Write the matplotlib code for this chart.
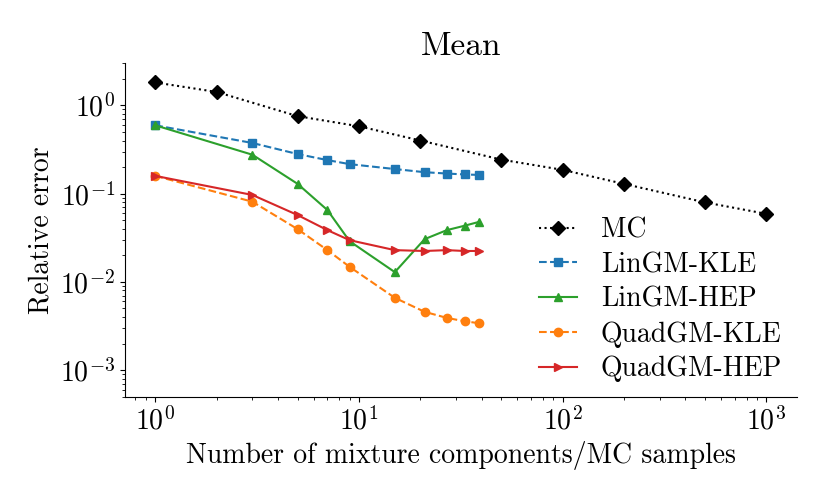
import matplotlib
matplotlib.use("Agg")
import matplotlib.pyplot as plt

plt.rcParams['font.family'] = ['cmr10', 'DejaVu Serif']
plt.rcParams['mathtext.fontset'] = 'cm'
plt.rcParams['axes.formatter.use_mathtext'] = True
plt.rcParams['axes.unicode_minus'] = False
plt.rcParams['font.size'] = 20

mc_n = [1, 2, 5, 10, 20, 50, 100, 200, 500, 1000]
mc_err = [1.82, 1.42, 0.755, 0.58, 0.40, 0.243, 0.186, 0.129, 0.0796, 0.0590]

gm_n = [1, 3, 5, 7, 9, 15, 21, 27, 33, 39]
lingm_kle = [0.595, 0.375, 0.281, 0.240, 0.216, 0.190, 0.175, 0.169, 0.165, 0.163]
lingm_hep = [0.595, 0.276, 0.129, 0.0652, 0.0289, 0.0129, 0.0305, 0.0386, 0.0433, 0.0480]
quadgm_kle = [0.159, 0.081, 0.0396, 0.0229, 0.0148, 0.0066, 0.00458, 0.00391, 0.00358, 0.0034]
quadgm_hep = [0.159, 0.0966, 0.0572, 0.0386, 0.0297, 0.0229, 0.0224, 0.0229, 0.0224, 0.0224]

fig = plt.figure(figsize=(8.3, 4.98), dpi=100)
ax = fig.add_axes([0.1502, 0.2034, 0.81, 0.6695])

ax.plot(mc_n, mc_err, 'k:', marker='D', markersize=7, label='MC')
ax.plot(gm_n, lingm_kle, '--', color='tab:blue', marker='s', markersize=6, label='LinGM-KLE')
ax.plot(gm_n, lingm_hep, '-', color='tab:green', marker='^', markersize=6, label='LinGM-HEP')
ax.plot(gm_n, quadgm_kle, '--', color='tab:orange', marker='o', markersize=6, label='QuadGM-KLE')
ax.plot(gm_n, quadgm_hep, '-', color='tab:red', marker='>', markersize=6, label='QuadGM-HEP')

ax.set_xscale('log')
ax.set_yscale('log')
ax.set_ylim(5e-4, 3)
ax.spines['top'].set_visible(False)
ax.spines['right'].set_visible(False)
ax.set_title('Mean', fontsize=24)
ax.set_xlabel('Number of mixture components/MC samples')
ax.set_ylabel('Relative error')
ax.legend(loc='lower right', frameon=False, bbox_to_anchor=(1.015, -0.032),
          labelspacing=0.3, handlelength=1.36, handletextpad=0.86)

fig.savefig('out.png', dpi=100)
